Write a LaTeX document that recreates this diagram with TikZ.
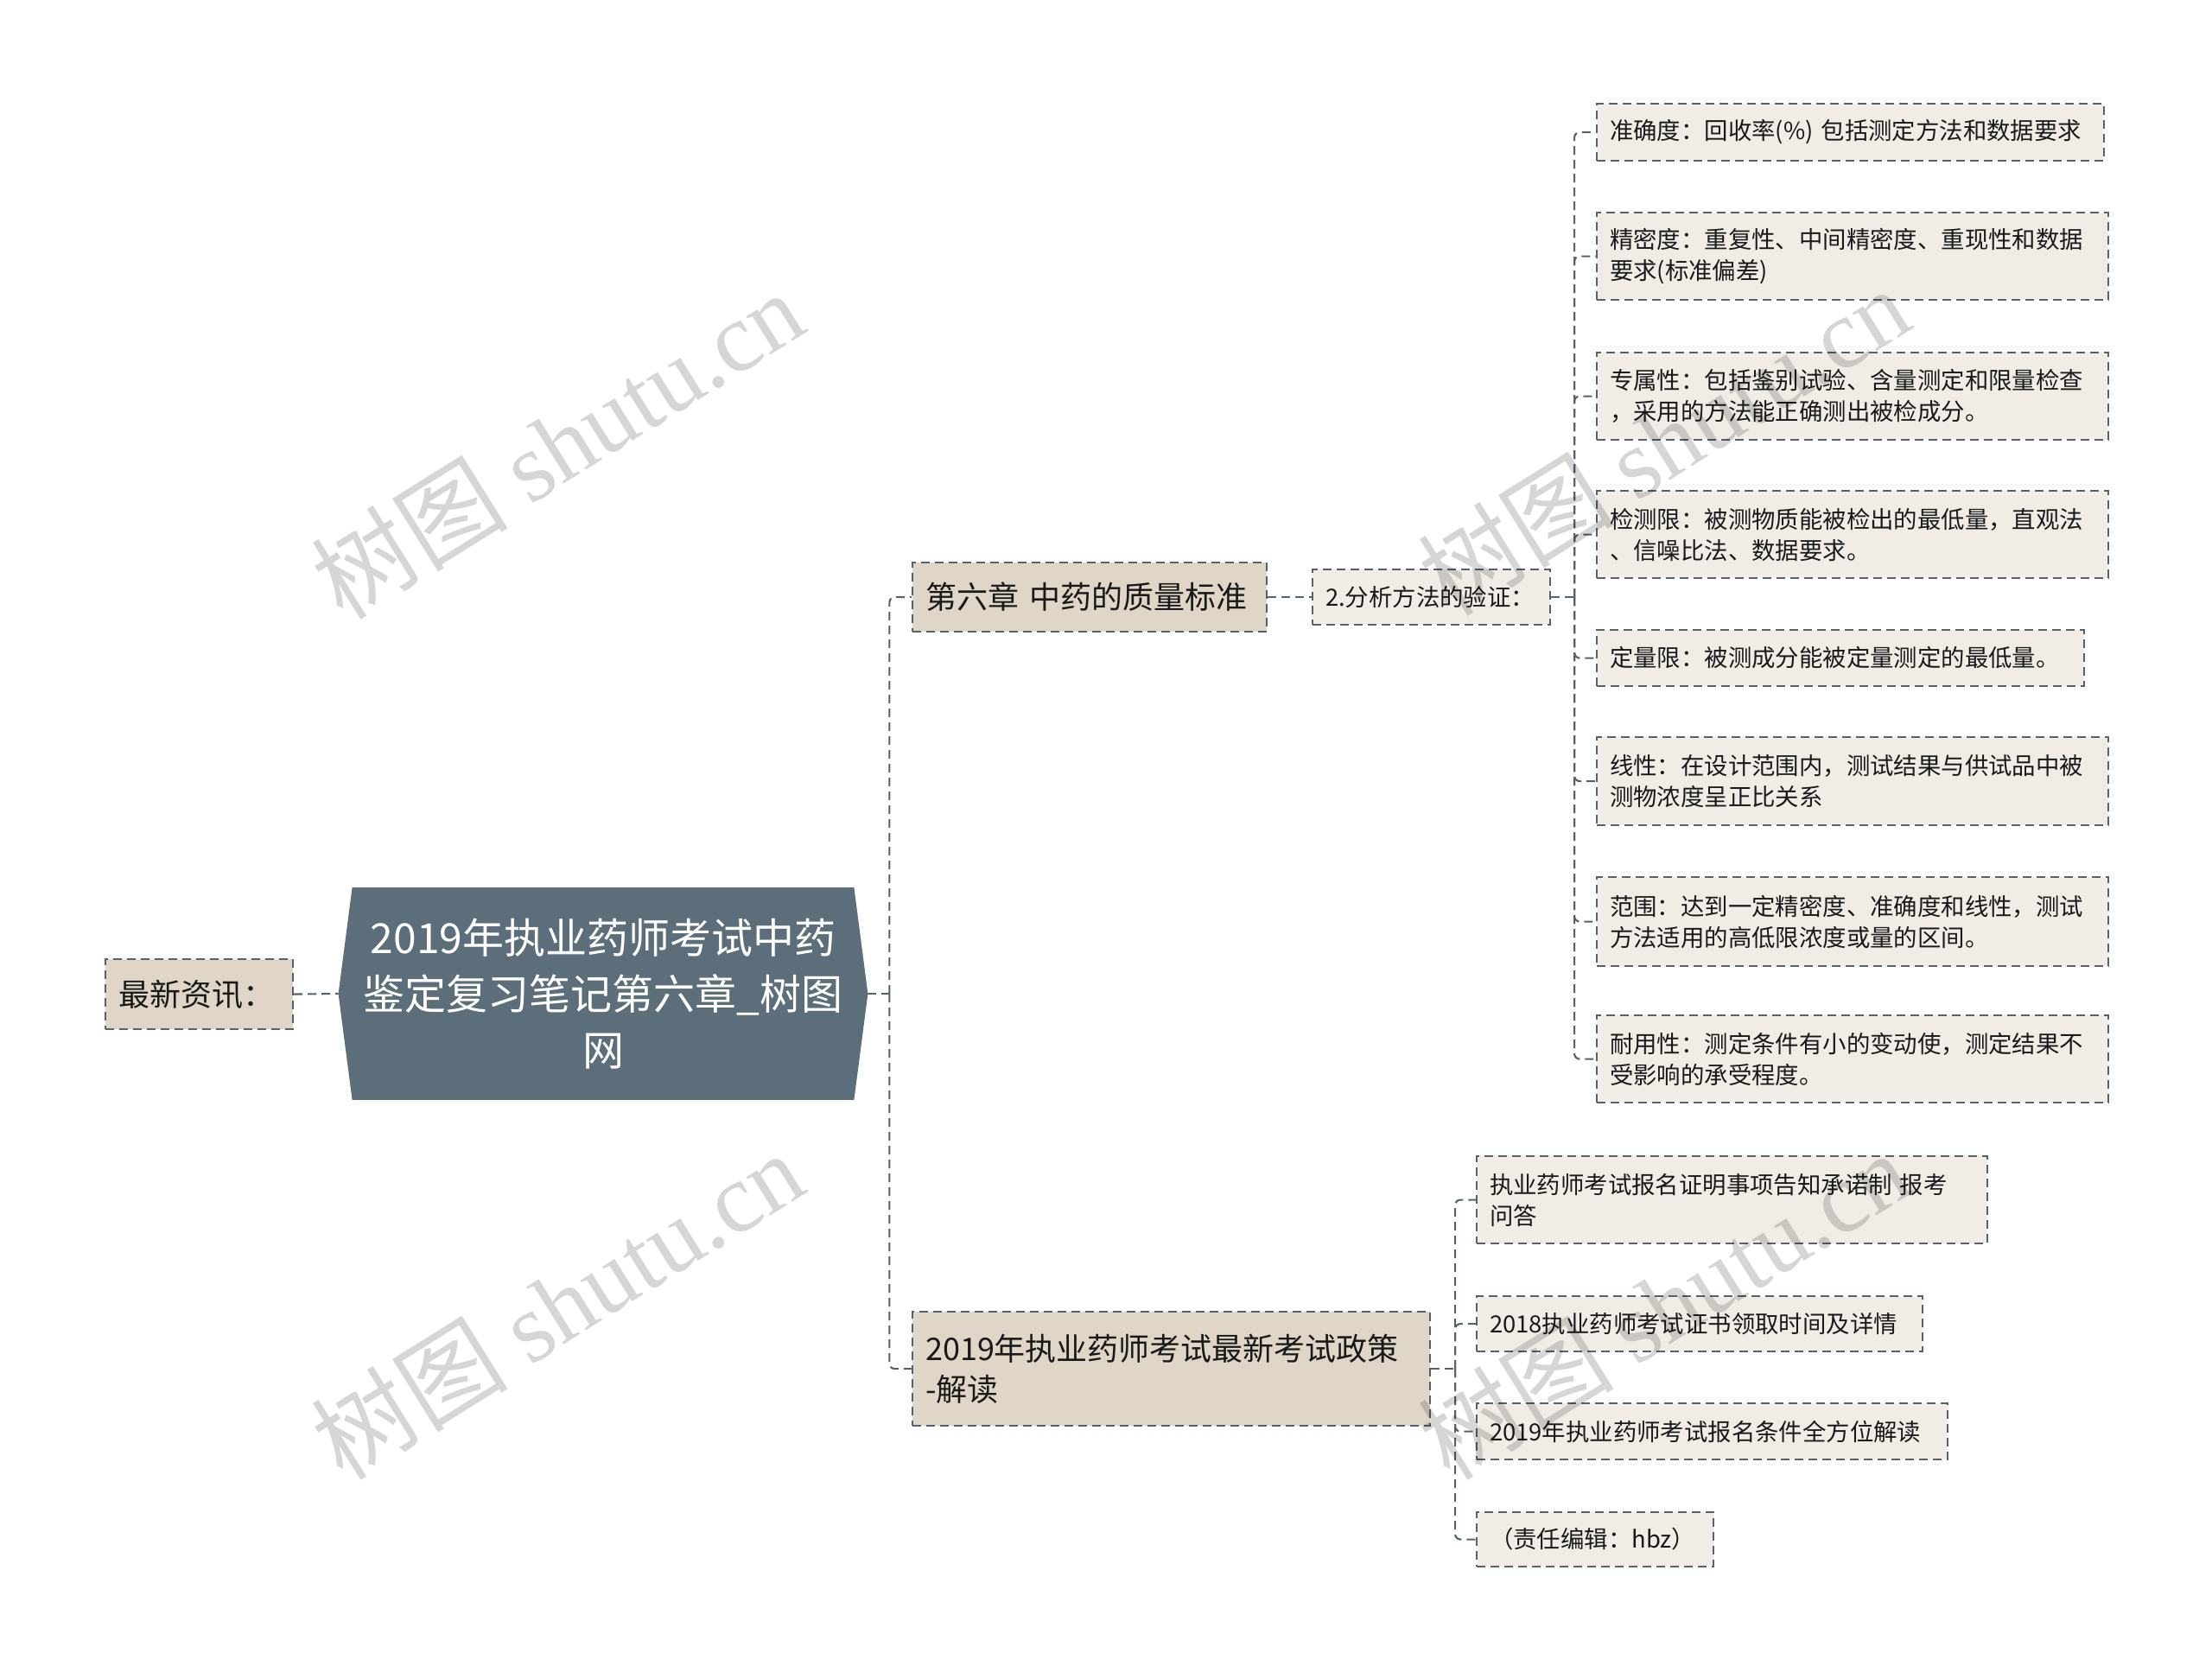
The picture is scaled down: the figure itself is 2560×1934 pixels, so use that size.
\documentclass[tikz,border=0pt]{standalone}
\usepackage{fontspec}
\setmainfont{Noto Sans CJK SC}
\newfontfamily\wmlatin{Liberation Serif}
\usetikzlibrary{backgrounds}

\definecolor{rootfill}{HTML}{5C6E7A}
\definecolor{tanfill}{HTML}{E0D6C7}
\definecolor{leaffill}{HTML}{F1EDE6}
\definecolor{edgecol}{HTML}{56626B}

\begin{document}
\begin{tikzpicture}[x=0.5pt,y=-0.5pt,
  box/.style={draw=edgecol, line width=1.05pt, dash pattern=on 5pt off 3pt,
    anchor=north west, inner xsep=7.5pt, inner ysep=0pt, align=left},
  tanbox/.style={box, fill=tanfill, font=\fontsize{18pt}{23.5pt}\selectfont, text=black!90},
  leafbox/.style={box, fill=leaffill, font=\fontsize{13.7pt}{18pt}\selectfont, text=black!90},
  conn/.style={draw=edgecol, line width=1.05pt, dash pattern=on 5pt off 3pt, rounded corners=3pt},
  wmark/.style={text=black, opacity=0.16, rotate=32, font=\fontsize{57pt}{57pt}\selectfont}
]
\path[use as bounding box] (0,0) rectangle (2560,1934);

% root
\node[text=white, inner xsep=5pt, inner ysep=0pt, text width=296pt, minimum height=122.5pt,
  align=center, font=\fontsize{24pt}{32.5pt}\selectfont] (root) at (698,1150)
  {2019年执业药师考试中药\\鉴定复习笔记第六章\_树图\\网};
\begin{scope}[on background layer]
\fill[white] (0,0) rectangle (2560,1934);
\fill[rootfill] ([xshift=8pt]root.north west) -- (root.west) -- ([xshift=8pt]root.south west)
  -- ([xshift=-8pt]root.south east) -- (root.east) -- ([xshift=-8pt]root.north east) -- cycle;
\end{scope}

% left
\node[tanbox, text width=93.5pt, minimum height=40.5pt] (news) at (121,1109) {最新资讯：};

% level 1
\node[tanbox, text width=190pt, minimum height=40pt] (ch6) at (1055,650) {第六章 中药的质量标准};
\node[tanbox, text width=284.5pt, minimum height=66pt] (pol) at (1055,1517) {2019年执业药师考试最新考试政策\\-解读};

% level 2
\node[leafbox, text width=122.5pt, minimum height=32pt] (an) at (1518,658) {2.分析方法的验证：};

% leaves of an
\node[leafbox, text width=278.5pt, minimum height=33pt] (l1) at (1847,119) {准确度：回收率(\%) 包括测定方法和数据要求};
\node[leafbox, text width=281pt, minimum height=50.5pt] (l2) at (1847,245) {精密度：重复性、中间精密度、重现性和数据\\要求(标准偏差)};
\node[leafbox, text width=281pt, minimum height=50.5pt] (l3) at (1847,407) {专属性：包括鉴别试验、含量测定和限量检查\\，采用的方法能正确测出被检成分。};
\node[leafbox, text width=281pt, minimum height=50.5pt] (l4) at (1847,567) {检测限：被测物质能被检出的最低量，直观法\\、信噪比法、数据要求。};
\node[leafbox, text width=267pt, minimum height=32.5pt] (l5) at (1847,728) {定量限：被测成分能被定量测定的最低量。};
\node[leafbox, text width=281pt, minimum height=51pt] (l6) at (1847,852) {线性：在设计范围内，测试结果与供试品中被\\测物浓度呈正比关系};
\node[leafbox, text width=281pt, minimum height=51.5pt] (l7) at (1847,1014) {范围：达到一定精密度、准确度和线性，测试\\方法适用的高低限浓度或量的区间。};
\node[leafbox, text width=281pt, minimum height=50.5pt] (l8) at (1847,1174) {耐用性：测定条件有小的变动使，测定结果不\\受影响的承受程度。};

% leaves of pol
\node[leafbox, text width=280.5pt, minimum height=50.5pt] (p1) at (1708,1337) {执业药师考试报名证明事项告知承诺制 报考\\问答};
\node[leafbox, text width=243pt, minimum height=32pt] (p2) at (1708,1499) {2018执业药师考试证书领取时间及详情};
\node[leafbox, text width=257.5pt, minimum height=32.5pt] (p3) at (1708,1623) {2019年执业药师考试报名条件全方位解读};
\node[leafbox, text width=122pt, minimum height=31.5pt] (p4) at (1708,1749) {（责任编辑：hbz）};

% connectors
\draw[conn] (news.east) -- (root.west);
\draw[conn] (root.east) -- ++(25,0) coordinate (j1);
\draw[conn] (j1) |- (ch6.west);
\draw[conn] (j1) |- (pol.west);
\draw[conn] (ch6.east) -- (an.west);
\draw[conn] (an.east) -- ++(27,0) coordinate (j2);
\foreach \n in {l1,l2,l3,l4,l5,l6,l7,l8} \draw[conn] (j2) |- (\n.west);
\draw[conn] (pol.east) -- ++(28,0) coordinate (j3);
\foreach \n in {p1,p2,p3,p4} \draw[conn] (j3) |- (\n.west);

% watermarks
\node[wmark] (w1) at (645,514) {树图 {\wmlatin shutu.cn}};
\node[wmark] (w2) at (645,1510) {树图 {\wmlatin shutu.cn}};
\node[wmark] (w3) at (1925,510) {树图 {\wmlatin shutu.cn}};
\node[wmark] (w4) at (1925,1510) {树图 {\wmlatin shutu.cn}};
\end{tikzpicture}
\end{document}
